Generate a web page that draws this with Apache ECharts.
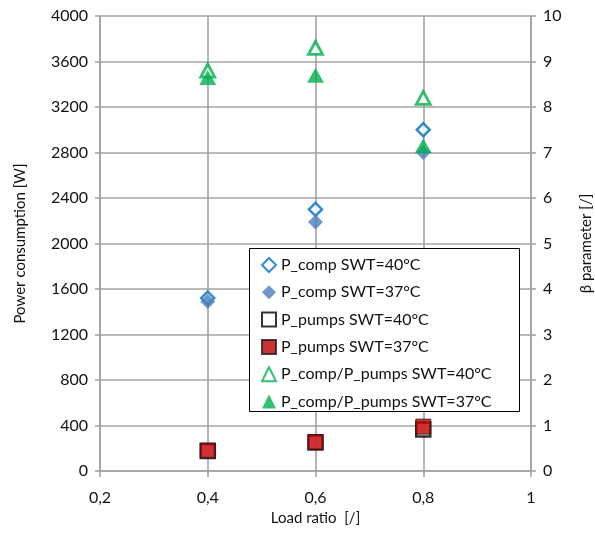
<!DOCTYPE html>
<html>
<head>
<meta charset="utf-8">
<script src="https://cdn.jsdelivr.net/npm/echarts@6/dist/echarts.min.js"></script>
<style>
  html, body { margin: 0; padding: 0; background: #fff; }
  #chart { width: 595px; height: 537px; }
</style>
</head>
<body>
<div id="chart"></div>
<script>
// Load ratios at which the heat pump was measured
const loadRatios = [0.4, 0.6, 0.8];

// Compressor power [W]
const pComp40 = [1520, 2300, 3000];
const pComp37 = [1490, 2190, 2800];

// Circulation pumps power [W]
const pPumps40 = [175, 250, 365];
const pPumps37 = [180, 255, 390];

// β = P_comp / P_pumps [/]
const beta40 = [8.8, 9.3, 8.2];
const beta37 = [8.65, 8.7, 7.15];

const seriesNames = [
  'P_comp SWT=40°C',
  'P_comp SWT=37°C',
  'P_pumps SWT=40°C',
  'P_pumps SWT=37°C',
  'P_comp/P_pumps SWT=40°C',
  'P_comp/P_pumps SWT=37°C'
];

const FONT = 'Lato';
const GRID_COLOR = '#a3a3a3';

const pairs = (xs, ys) => xs.map((x, i) => [x, ys[i]]);

const chart = echarts.init(document.getElementById('chart'), null, { renderer: 'canvas' });

const axisText = { color: '#111', fontFamily: FONT, fontSize: 16 };
const lineStyle = { color: GRID_COLOR, width: 1.6 };

chart.setOption({
  animation: false,
  backgroundColor: '#fff',
  grid: { left: 100, right: 64, top: 16, bottom: 66, outerBoundsMode: 'none', containLabel: false },
  xAxis: {
    type: 'value',
    min: 0.2, max: 1, interval: 0.2,
    name: 'Load ratio  [/]',
    nameLocation: 'middle',
    nameGap: 32,
    nameTextStyle: Object.assign({}, axisText, { fontSize: 15 }),
    axisLine: { show: true, lineStyle },
    axisTick: { show: true, length: 6, lineStyle },
    axisLabel: Object.assign({
      margin: 19,
      formatter: v => (Math.abs(v - 1) < 1e-9 ? '1' : v.toFixed(1).replace('.', ','))
    }, axisText),
    splitLine: { show: true, lineStyle }
  },
  yAxis: [
    {
      type: 'value',
      min: 0, max: 4000, interval: 400,
      name: 'Power consumption [W]',
      nameLocation: 'middle',
      nameRotate: 90,
      nameGap: 72,
      nameTextStyle: Object.assign({}, axisText, { fontSize: 15 }),
      axisLine: { show: true, lineStyle },
      axisTick: { show: true, length: 5, lineStyle },
      axisLabel: Object.assign({ margin: 12, formatter: v => String(v) }, axisText),
      splitLine: { show: true, lineStyle }
    },
    {
      type: 'value',
      min: 0, max: 10, interval: 1,
      name: 'β parameter [/]',
      nameLocation: 'middle',
      nameRotate: 90,
      nameGap: 48,
      nameTextStyle: Object.assign({}, axisText, { fontSize: 15 }),
      axisLine: { show: true, lineStyle },
      axisTick: { show: true, length: 5, lineStyle },
      axisLabel: Object.assign({ margin: 12, formatter: v => String(v) }, axisText),
      splitLine: { show: false }
    }
  ],
  legend: {
    orient: 'vertical',
    left: 249, top: 248,
    padding: [9, 12, 9, 12],
    itemWidth: 14, itemHeight: 14, itemGap: 11.3,
    data: seriesNames,
    textStyle: { color: '#111', fontFamily: FONT, fontSize: 16, lineHeight: 14 },
    z: 10
  },
  graphic: [{
    type: 'rect',
    z: 3,
    shape: { x: 249.5, y: 248.5, width: 270, height: 163 },
    style: { fill: '#fff', stroke: '#000', lineWidth: 1 }
  }],
  series: [
    {
      name: seriesNames[2], type: 'scatter', yAxisIndex: 0,
      symbol: 'rect', symbolSize: 14,
      itemStyle: { color: '#fff', borderColor: '#000', borderWidth: 2.5 },
      data: pairs(loadRatios, pPumps40)
    },
    {
      name: seriesNames[3], type: 'scatter', yAxisIndex: 0,
      symbol: 'rect', symbolSize: 15,
      itemStyle: { color: '#C00000', borderColor: '#1a1a1a', borderWidth: 1 },
      data: pairs(loadRatios, pPumps37)
    },
    {
      name: seriesNames[0], type: 'scatter', yAxisIndex: 0,
      symbol: 'diamond', symbolSize: 13,
      itemStyle: { color: '#fff', borderColor: '#0070C0', borderWidth: 2.5 },
      data: pairs(loadRatios, pComp40)
    },
    {
      name: seriesNames[1], type: 'scatter', yAxisIndex: 0,
      symbol: 'diamond', symbolSize: 15,
      itemStyle: { color: '#4A7EBB' },
      data: pairs(loadRatios, pComp37)
    },
    {
      name: seriesNames[4], type: 'scatter', yAxisIndex: 1,
      symbol: 'triangle', symbolSize: [14, 13],
      itemStyle: { color: '#fff', borderColor: '#00B050', borderWidth: 2.8 },
      data: pairs(loadRatios, beta40)
    },
    {
      name: seriesNames[5], type: 'scatter', yAxisIndex: 1,
      symbol: 'triangle', symbolSize: [17, 15],
      itemStyle: { color: '#00B050' },
      data: pairs(loadRatios, beta37)
    }
  ]
});
</script>
</body>
</html>
